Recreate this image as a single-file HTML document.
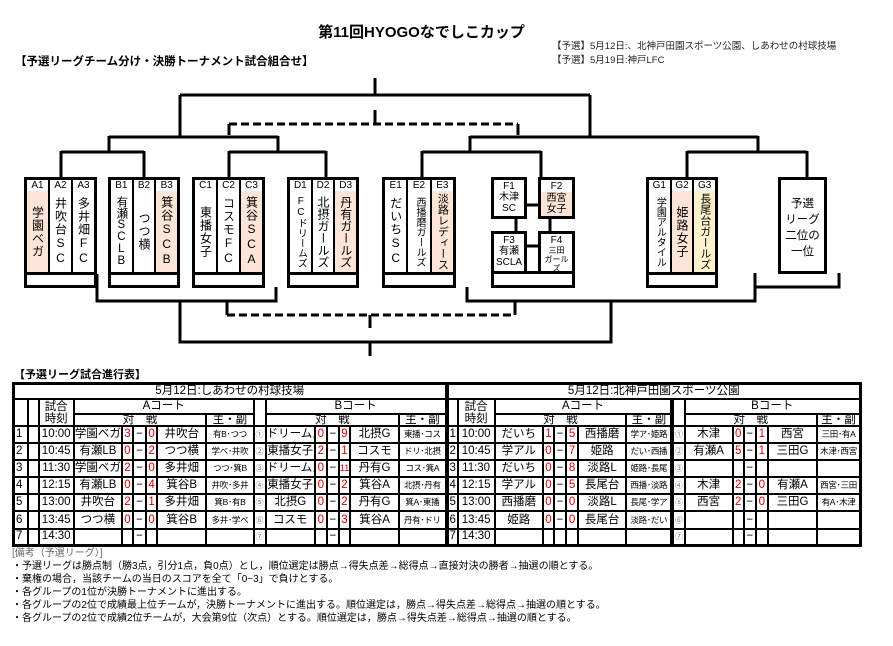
<!DOCTYPE html>
<html><head><meta charset="utf-8">
<style>
*{margin:0;padding:0;box-sizing:border-box}
body{width:893px;height:646px;background:#fff;position:relative;overflow:hidden;font-family:"Liberation Sans","Noto Sans CJK JP",sans-serif;color:#000}
.a{position:absolute}
.box{position:absolute;border:3px solid #000;background:#000}
.cols{position:absolute;left:0;top:0;right:0;height:92px;display:flex;gap:2px}
.col{flex:1;background:#fff;display:flex;flex-direction:column;overflow:hidden}
.lab{height:11px;font-size:10px;line-height:11px;text-align:center;background:#fff}
.vt{flex:1;writing-mode:vertical-rl;text-orientation:upright;font-size:12px;line-height:20px;display:flex;align-items:center;justify-content:center;letter-spacing:1px;padding:1px 0;white-space:nowrap}
.sm{font-size:10px;letter-spacing:0}
.pk{background:#fce4d6}
.yl{background:#fff2cc}
.bot{position:absolute;left:0;right:0;bottom:0;height:10px;background:#fff}
.fb{position:absolute;border:3px solid #000;background:#fff;font-size:10px;line-height:11px;text-align:center}
table{position:absolute;left:12px;top:382px;width:850px;border-collapse:collapse;table-layout:fixed;border:3px solid #000}
td{border:2px solid #000;text-align:center;font-size:11.5px;white-space:nowrap;overflow:hidden;padding:0;line-height:13px}
tr.d td{height:17.1px}
.r{color:#e00000}
.rf{font-size:8.5px;letter-spacing:-0.3px}
.c{font-size:8px;color:#777}
.n{text-align:left;padding-left:1px}
.tk{border-left:4px solid #000}
.notes{position:absolute;left:12px;top:547px;font-size:10px;line-height:13px}
</style></head><body>

<div class="a" style="left:0;width:893px;top:21px;text-align:center;font-size:15px;font-weight:bold"><span style="position:relative;left:-25px">第11回HYOGOなでしこカップ</span></div>
<div class="a" style="left:15px;top:53px;font-size:11.5px;font-weight:bold">【予選リーグチーム分け・決勝トーナメント試合組合せ】</div>
<div class="a" style="left:552px;top:40px;font-size:9.5px;line-height:14px;color:#222">【予選】5月12日:、北神戸田園スポーツ公園、しあわせの村球技場<br>【予選】5月19日:神戸LFC</div>

<svg class="a" style="left:0;top:0" width="893" height="646">
<g stroke="#000" stroke-width="3" fill="none">
<path d="M375 78V95M180 95H590M180 95V137M590 95V137M109 137H278M470 137H758M109 136V152M278 136V152M470 136V152M758 136V152"/>
<path d="M61 152H144M229 152H326M422 152H541M687 152H807"/>
<path d="M61 151V178M144 151V178M229 151V178M326 151V178M422 151V178M541 151V178M687 151V178M807 151V178"/>
<path d="M97 274V301H276V287M180 301V342H611V301M467 287V301H755V273M755 287H839V273M370 342V356"/>
<path d="M375 110V124M229 124V135M518 124V135M227 301V315M515 301V315M370 315V328"/>
<path d="M229 124H518M227 315H515" stroke-dasharray="8 4"/>
<path d="M509 205H541M516 218V232M550 218V232M527 246H541"/>
</g>
</svg>

<div class="box" style="left:24px;top:177px;width:73px;height:111px"><div class="cols">
<div class="col"><div class="lab">A1</div><div class="vt pk">学園ベガ</div></div>
<div class="col"><div class="lab">A2</div><div class="vt">井吹台SC</div></div>
<div class="col"><div class="lab">A3</div><div class="vt">多井畑FC</div></div>
</div><div class="bot"></div></div>
<div class="box" style="left:108px;top:177px;width:72px;height:111px"><div class="cols">
<div class="col"><div class="lab">B1</div><div class="vt" style="font-size:11.5px;letter-spacing:0">有瀬SCLB</div></div>
<div class="col"><div class="lab">B2</div><div class="vt">つつ横</div></div>
<div class="col"><div class="lab">B3</div><div class="vt pk">箕谷SCB</div></div>
</div><div class="bot"></div></div>
<div class="box" style="left:192px;top:177px;width:73px;height:111px"><div class="cols">
<div class="col"><div class="lab">C1</div><div class="vt">東播女子</div></div>
<div class="col"><div class="lab">C2</div><div class="vt">コスモFC</div></div>
<div class="col"><div class="lab">C3</div><div class="vt pk">箕谷SCA</div></div>
</div><div class="bot"></div></div>
<div class="box" style="left:287px;top:177px;width:72px;height:111px"><div class="cols">
<div class="col"><div class="lab">D1</div><div class="vt sm">FCドリームズ</div></div>
<div class="col"><div class="lab">D2</div><div class="vt" style="letter-spacing:0">北摂ガールズ</div></div>
<div class="col"><div class="lab">D3</div><div class="vt pk" style="letter-spacing:0">丹有ガールズ</div></div>
</div><div class="bot"></div></div>
<div class="box" style="left:382px;top:177px;width:74px;height:111px"><div class="cols">
<div class="col"><div class="lab">E1</div><div class="vt">だいちSC</div></div>
<div class="col"><div class="lab">E2</div><div class="vt sm">西播磨ガールズ</div></div>
<div class="col"><div class="lab">E3</div><div class="vt pk sm" style="font-size:11px">淡路レディース</div></div>
</div><div class="bot"></div></div>
<div class="box" style="left:646px;top:177px;width:72px;height:111px"><div class="cols">
<div class="col"><div class="lab">G1</div><div class="vt sm">学園アルタイル</div></div>
<div class="col"><div class="lab">G2</div><div class="vt pk">姫路女子</div></div>
<div class="col"><div class="lab">G3</div><div class="vt yl sm" style="font-size:11px">長尾台ガールズ</div></div>
</div><div class="bot"></div></div>
<div class="fb" style="left:491px;top:271px;width:84px;height:17px"></div>
<div class="fb" style="left:491px;top:177px;width:36px;height:42px;padding-top:1px">F1<br>木津<br>SC</div>
<div class="fb" style="left:538px;top:177px;width:37px;height:42px;padding-top:1px">F2<br><div class="pk" style="height:24px;padding-top:1px">西宮<br>女子</div></div>
<div class="fb" style="left:491px;top:231px;width:36px;height:43px;padding-top:1px">F3<br>有瀬<br>SCLA</div>
<div class="fb" style="left:538px;top:231px;width:37px;height:43px;padding-top:1px;line-height:9px;font-size:8px"><span style="font-size:10px;line-height:11px">F4</span><br>三田<br>ガール<br>ズ</div>
<div class="fb" style="left:778px;top:177px;width:49px;height:97px;font-size:11.5px;line-height:16px;padding-top:16px">予選<br>リーグ<br>二位の<br>一位</div>

<div class="a" style="left:14px;top:366px;font-size:11px;font-weight:bold">【予選リーグ試合進行表】</div>

<table>
<colgroup>
<col style="width:14px"><col style="width:11px"><col style="width:35px"><col style="width:48px"><col style="width:11px"><col style="width:13px"><col style="width:11px"><col style="width:49px"><col style="width:47px">
<col style="width:12px"><col style="width:49px"><col style="width:12px"><col style="width:12px"><col style="width:11px"><col style="width:49px"><col style="width:47px">
<col style="width:11px"><col style="width:37px"><col style="width:48px"><col style="width:11px"><col style="width:12px"><col style="width:12px"><col style="width:48px"><col style="width:46px">
<col style="width:12px"><col style="width:48px"><col style="width:11px"><col style="width:12px"><col style="width:12px"><col style="width:49px"><col style="width:43px">
</colgroup>
<tr><td colspan="16" style="height:13px">5月12日:しあわせの村球技場</td><td colspan="15" class="tk">5月12日:北神戸田園スポーツ公園</td></tr>
<tr><td rowspan="2"></td><td rowspan="2"></td><td rowspan="2" style="line-height:12px">試合<br>時刻</td><td colspan="6" style="height:13px">Aコート</td><td rowspan="2"></td><td colspan="6">Bコート</td>
<td rowspan="2" class="tk"></td><td rowspan="2" style="line-height:12px">試合<br>時刻</td><td colspan="6">Aコート</td><td rowspan="2" class="tk"></td><td colspan="6">Bコート</td></tr>
<tr><td colspan="5" style="height:10px;line-height:10px">対　戦</td><td style="line-height:10px">主・副</td><td colspan="5" style="line-height:10px">対　戦</td><td style="line-height:10px">主・副</td><td colspan="5" style="line-height:10px">対　戦</td><td style="line-height:10px">主・副</td><td colspan="5" style="line-height:10px">対　戦</td><td style="line-height:10px">主・副</td></tr>

<tr class="d"><td class="n">1</td><td></td><td>10:00</td><td>学園ベガ</td><td class="r">3</td><td>−</td><td class="r">0</td><td>井吹台</td><td class="rf">有B･つつ</td><td class="c">①</td><td>ドリームズ</td><td class="r">0</td><td>−</td><td class="r">9</td><td>北摂G</td><td class="rf">東播･コス</td>
<td class="n tk">1</td><td>10:00</td><td>だいち</td><td class="r">1</td><td>−</td><td class="r">5</td><td>西播磨</td><td class="rf">学ア･姫路</td><td class="c tk">①</td><td>木津</td><td class="r">0</td><td>−</td><td class="r">1</td><td>西宮</td><td class="rf">三田･有A</td></tr>
<tr class="d"><td class="n">2</td><td></td><td>10:45</td><td>有瀬LB</td><td class="r">0</td><td>−</td><td class="r">2</td><td>つつ横</td><td class="rf">学べ･井吹</td><td class="c">②</td><td>東播女子</td><td class="r">2</td><td>−</td><td class="r">1</td><td>コスモ</td><td class="rf">ドリ･北摂</td>
<td class="n tk">2</td><td>10:45</td><td>学アル</td><td class="r">0</td><td>−</td><td class="r">7</td><td>姫路</td><td class="rf">だい･西播</td><td class="c tk">②</td><td>有瀬A</td><td class="r">5</td><td>−</td><td class="r">1</td><td>三田G</td><td class="rf">木津･西宮</td></tr>
<tr class="d"><td class="n">3</td><td></td><td>11:30</td><td>学園ベガ</td><td class="r">2</td><td>−</td><td class="r">0</td><td>多井畑</td><td class="rf">つつ･箕B</td><td class="c">③</td><td>ドリームズ</td><td class="r">0</td><td>−</td><td class="r" style="font-size:9px">11</td><td>丹有G</td><td class="rf">コス･箕A</td>
<td class="n tk">3</td><td>11:30</td><td>だいち</td><td class="r">0</td><td>−</td><td class="r">8</td><td>淡路L</td><td class="rf">姫路･長尾</td><td class="c tk">③</td><td></td><td></td><td>−</td><td></td><td></td><td></td></tr>
<tr class="d"><td class="n">4</td><td></td><td>12:15</td><td>有瀬LB</td><td class="r">0</td><td>−</td><td class="r">4</td><td>箕谷B</td><td class="rf">井吹･多井</td><td class="c">④</td><td>東播女子</td><td class="r">0</td><td>−</td><td class="r">2</td><td>箕谷A</td><td class="rf">北摂･丹有</td>
<td class="n tk">4</td><td>12:15</td><td>学アル</td><td class="r">0</td><td>−</td><td class="r">5</td><td>長尾台</td><td class="rf">西播･淡路</td><td class="c tk">④</td><td>木津</td><td class="r">2</td><td>−</td><td class="r">0</td><td>有瀬A</td><td class="rf">西宮･三田</td></tr>
<tr class="d"><td class="n">5</td><td></td><td>13:00</td><td>井吹台</td><td class="r">2</td><td>−</td><td class="r">1</td><td>多井畑</td><td class="rf">箕B･有B</td><td class="c">⑤</td><td>北摂G</td><td class="r">0</td><td>−</td><td class="r">2</td><td>丹有G</td><td class="rf">箕A･東播</td>
<td class="n tk">5</td><td>13:00</td><td>西播磨</td><td class="r">0</td><td>−</td><td class="r">0</td><td>淡路L</td><td class="rf">長尾･学ア</td><td class="c tk">⑤</td><td>西宮</td><td class="r">2</td><td>−</td><td class="r">0</td><td>三田G</td><td class="rf">有A･木津</td></tr>
<tr class="d"><td class="n">6</td><td></td><td>13:45</td><td>つつ横</td><td class="r">0</td><td>−</td><td class="r">0</td><td>箕谷B</td><td class="rf">多井･学べ</td><td class="c">⑥</td><td>コスモ</td><td class="r">0</td><td>−</td><td class="r">3</td><td>箕谷A</td><td class="rf">丹有･ドリ</td>
<td class="n tk">6</td><td>13:45</td><td>姫路</td><td class="r">0</td><td>−</td><td class="r">0</td><td>長尾台</td><td class="rf">淡路･だい</td><td class="c tk">⑥</td><td></td><td></td><td>−</td><td></td><td></td><td></td></tr>
<tr class="d"><td class="n">7</td><td></td><td>14:30</td><td></td><td></td><td>−</td><td></td><td></td><td></td><td class="c">⑦</td><td></td><td></td><td>−</td><td></td><td></td><td></td>
<td class="n tk">7</td><td>14:30</td><td></td><td></td><td></td><td></td><td></td><td></td><td class="c tk">⑦</td><td></td><td></td><td>−</td><td></td><td></td><td></td></tr>
</table>

<div class="notes"><span style="color:#666">[備考（予選リーグ）]</span><br>
・予選リーグは勝点制（勝3点，引分1点，負0点）とし，順位選定は勝点→得失点差→総得点→直接対決の勝者→抽選の順とする。<br>
・棄権の場合，当該チームの当日のスコアを全て「0−3」で負けとする。<br>
・各グループの1位が決勝トーナメントに進出する。<br>
・各グループの2位で成績最上位チームが，決勝トーナメントに進出する。順位選定は，勝点→得失点差→総得点→抽選の順とする。<br>
・各グループの2位で成績2位チームが，大会第9位（次点）とする。順位選定は，勝点→得失点差→総得点→抽選の順とする。</div>
</body></html>
